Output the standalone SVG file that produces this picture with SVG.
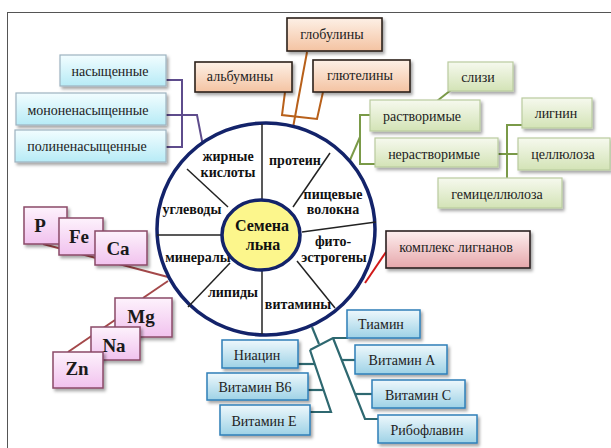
<svg xmlns="http://www.w3.org/2000/svg" width="611" height="448" viewBox="0 0 611 448" font-family="Liberation Serif, DejaVu Serif, Times, serif">
<defs>
<linearGradient id="gPeach" x1="0" y1="0" x2="0" y2="1"><stop offset="0" stop-color="#fdf0e6"/><stop offset="1" stop-color="#f4c3a2"/></linearGradient>
<linearGradient id="gCyan" x1="0" y1="0" x2="0" y2="1"><stop offset="0" stop-color="#f2fdff"/><stop offset="1" stop-color="#b7ebf6"/></linearGradient>
<linearGradient id="gGreen" x1="0" y1="0" x2="0" y2="1"><stop offset="0" stop-color="#f6f9ee"/><stop offset="1" stop-color="#d3e3b6"/></linearGradient>
<linearGradient id="gPink" x1="0" y1="0" x2="0" y2="1"><stop offset="0" stop-color="#fdf2fc"/><stop offset="1" stop-color="#f1c2ee"/></linearGradient>
<linearGradient id="gRose" x1="0" y1="0" x2="0" y2="1"><stop offset="0" stop-color="#fdeeee"/><stop offset="1" stop-color="#e6a7ab"/></linearGradient>
<linearGradient id="gBlue" x1="0" y1="0" x2="0" y2="1"><stop offset="0" stop-color="#eef8fc"/><stop offset="1" stop-color="#9ed2e6"/></linearGradient>
<filter id="sh" x="-20%" y="-20%" width="150%" height="160%"><feDropShadow dx="2" dy="2.5" stdDeviation="1.5" flood-color="#000" flood-opacity="0.35"/></filter>
</defs>
<style>
.frame{fill:none;stroke:#555;stroke-width:1}
.peach{fill:url(#gPeach);stroke:#2b211b;stroke-width:1.6;filter:url(#sh)}
.cyan{fill:url(#gCyan);stroke:#9db3c0;stroke-width:1.2;filter:url(#sh)}
.green{fill:url(#gGreen);stroke:#b9cb9f;stroke-width:1.2;filter:url(#sh)}
.pink{fill:url(#gPink);stroke:#8a4a68;stroke-width:1.5;filter:url(#sh)}
.rose{fill:url(#gRose);stroke:#2b2020;stroke-width:1.6;filter:url(#sh)}
.blue{fill:url(#gBlue);stroke:#2f7fb8;stroke-width:1.5;filter:url(#sh)}
.t{font-family:Liberation Serif, DejaVu Serif, Times, serif;font-size:14px;fill:#222;text-anchor:middle}
.tb{font-family:Liberation Serif, DejaVu Serif, Times, serif;font-size:14px;font-weight:bold;fill:#111;text-anchor:middle}
.tm{font-family:Liberation Serif, DejaVu Serif, Times, serif;font-size:19px;font-weight:bold;fill:#1a1a1a;text-anchor:middle}
.c{fill:none;stroke-width:2;stroke-linejoin:miter}
.orange{stroke:#b8601a}
.purple{stroke:#5e4c8c}
.olive{stroke:#7a9a48}
.brick{stroke:#a4484a}
.red{stroke:#d01818}
.teal{stroke:#2e6870;stroke-width:2.2}
.spoke{stroke:#222;stroke-width:1.5}
</style>
<rect class="frame" x="7.5" y="12.5" width="640" height="460"/>

<g id="connectors">
<polyline class="c orange" points="307,52 292,133"/>
<polyline class="c orange" points="285,92 282,115 317,119 323,92"/>
<polyline class="c purple" points="166,80 182,80 182,147 166,147"/>
<polyline class="c purple" points="166,115 197,115 203,146"/>
<polyline class="c olive" points="451,90 437,101"/>
<polyline class="c olive" points="375,115 360,115 360,164 375,164"/>
<polyline class="c olive" points="360,137 347,167"/>
<polyline class="c olive" points="498,154 518,154"/>
<polyline class="c olive" points="522,125 507,125 507,180"/>
<polyline class="c brick" points="43,244 168,277"/>
<polyline class="c brick" points="168,281 143,298"/>
<polyline class="c brick" points="68,352 115,320"/>
<polyline class="c red" points="386,252 365,283"/>
<polyline class="c teal" points="312,327 319,344"/>
<polyline class="c teal" points="310,350 333,338 348,338"/>
<polyline class="c teal" points="333,338 365,419 378,419"/>
<polyline class="c teal" points="342,360 356,360"/>
<polyline class="c teal" points="356,394 372,394"/>
<polyline class="c teal" points="310,350 331,412 310,412"/>
<polyline class="c teal" points="298,364 315,364"/>
<polyline class="c teal" points="308,390 324,390"/>
</g>

<g id="wheel">
<ellipse cx="266" cy="229" rx="109" ry="106" fill="#fff" stroke="#13236a" stroke-width="3.5"/>
<line class="spoke" x1="262" y1="124" x2="262" y2="201"/>
<line class="spoke" x1="262" y1="269" x2="262" y2="334"/>
<line class="spoke" x1="157" y1="235" x2="222" y2="235"/>
<line class="spoke" x1="293" y1="207" x2="330" y2="153"/>
<line class="spoke" x1="302" y1="232" x2="376" y2="222"/>
<line class="spoke" x1="297" y1="261" x2="335" y2="308"/>
<line class="spoke" x1="230" y1="263" x2="188" y2="307"/>
<line class="spoke" x1="228" y1="207" x2="187" y2="169"/>
<text class="tb" x="228" y="161">жирные</text>
<text class="tb" x="228" y="177">кислоты</text>
<text class="tb" x="295" y="165">протеин</text>
<text class="tb" x="333" y="199">пищевые</text>
<text class="tb" x="333" y="214">волокна</text>
<text class="tb" x="333" y="246">фито-</text>
<text class="tb" x="334" y="262">эстрогены</text>
<text class="tb" x="298" y="309">витамины</text>
<text class="tb" x="233" y="297">липиды</text>
<text class="tb" x="198" y="262">минералы</text>
<text class="tb" x="192" y="214">углеводы</text>
</g>

<g id="center">
<ellipse cx="261" cy="235" rx="39" ry="35" fill="#fcf68c" stroke="#13236a" stroke-width="3.5"/>
<text class="tb" x="262" y="231" style="font-size:16px">Семена</text>
<text class="tb" x="263" y="250" style="font-size:16px">льна</text>
</g>

<g id="globuliny"><rect class="peach" x="287" y="18" width="95" height="33"/><text class="t" x="332" y="39">глобулины</text></g>
<g id="albuminy"><rect class="peach" x="195" y="62" width="97" height="30"/><text class="t" x="240" y="81">альбумины</text></g>
<g id="gliuteliny"><rect class="peach" x="313" y="60" width="97" height="32"/><text class="t" x="360" y="80">глютелины</text></g>

<g id="nasyshchennye"><rect class="cyan" x="60" y="55" width="106" height="31"/><text class="t" x="110" y="76">насыщенные</text></g>
<g id="mononenasyshchennye"><rect class="cyan" x="16" y="93" width="150" height="32"/><text class="t" x="88" y="115">мононенасыщенные</text></g>
<g id="polinenasyshchennye"><rect class="cyan" x="15" y="130" width="151" height="32"/><text class="t" x="87" y="151">полиненасыщенные</text></g>

<g id="slizi"><rect class="green" x="448" y="62" width="65" height="29"/><text class="t" x="478" y="82">слизи</text></g>
<g id="rastvorimye"><rect class="green" x="370" y="100" width="110" height="31"/><text class="t" x="422" y="121">растворимые</text></g>
<g id="nerastvorimye"><rect class="green" x="375" y="138" width="123" height="29"/><text class="t" x="434" y="159">нерастворимые</text></g>
<g id="lignin"><rect class="green" x="522" y="98" width="70" height="30"/><text class="t" x="556" y="118">лигнин</text></g>
<g id="celluloza"><rect class="green" x="518" y="138" width="92" height="32"/><text class="t" x="563" y="159">целлюлоза</text></g>
<g id="gemicelluloza"><rect class="green" x="438" y="178" width="124" height="30"/><text class="t" x="497" y="199">гемицеллюлоза</text></g>

<g id="kompleks-lignanov"><rect class="rose" x="386" y="231" width="144" height="37"/><text class="t" x="456" y="252">комплекс лигнанов</text></g>

<g id="P"><rect class="pink" x="24" y="207" width="43" height="37"/><text class="tm" x="40" y="232">P</text></g>
<g id="Fe"><rect class="pink" x="59" y="218" width="44" height="37"/><text class="tm" x="79" y="243">Fe</text></g>
<g id="Ca"><rect class="pink" x="95" y="231" width="52" height="34"/><text class="tm" x="118" y="255">Ca</text></g>
<g id="Mg"><rect class="pink" x="115" y="298" width="57" height="39"/><text class="tm" x="141" y="323">Mg</text></g>
<g id="Na"><rect class="pink" x="91" y="327" width="49" height="33"/><text class="tm" x="114" y="352">Na</text></g>
<g id="Zn"><rect class="pink" x="53" y="352" width="50" height="36"/><text class="tm" x="77" y="375">Zn</text></g>

<g id="tiamin"><rect class="blue" x="347" y="310" width="73" height="28"/><text class="t" x="381" y="329">Тиамин</text></g>
<g id="vitamin-a"><rect class="blue" x="355" y="345" width="92" height="29"/><text class="t" x="402" y="365">Витамин А</text></g>
<g id="vitamin-c"><rect class="blue" x="372" y="380" width="93" height="28"/><text class="t" x="418" y="400">Витамин С</text></g>
<g id="riboflavin"><rect class="blue" x="378" y="415" width="99" height="28"/><text class="t" x="427" y="435">Рибофлавин</text></g>
<g id="niacin"><rect class="blue" x="222" y="340" width="76" height="28"/><text class="t" x="257" y="360">Ниацин</text></g>
<g id="vitamin-b6"><rect class="blue" x="207" y="373" width="101" height="27"/><text class="t" x="255" y="392">Витамин В6</text></g>
<g id="vitamin-e"><rect class="blue" x="220" y="405" width="90" height="30"/><text class="t" x="264" y="426">Витамин Е</text></g>
</svg>
